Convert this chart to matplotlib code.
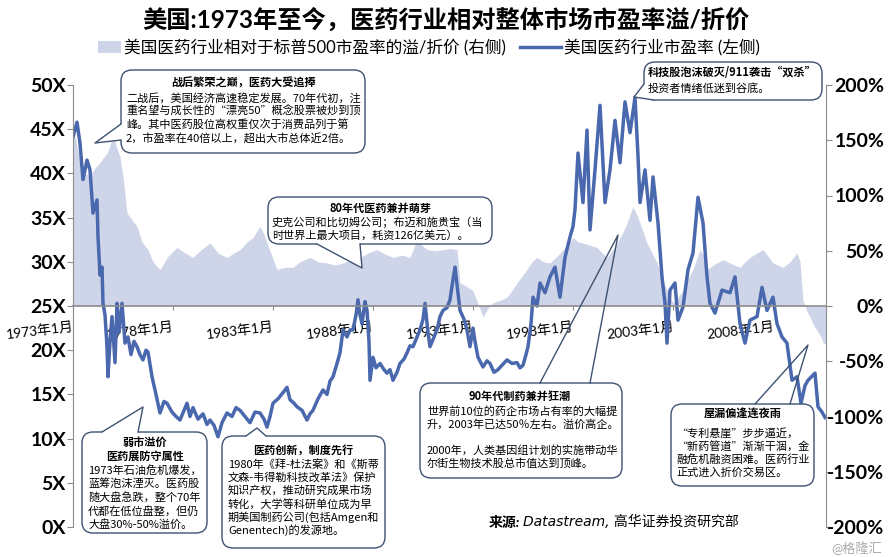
import matplotlib
matplotlib.use("Agg")
import matplotlib.pyplot as plt
from matplotlib.patches import FancyBboxPatch, Polygon, Rectangle
from matplotlib.lines import Line2D
from matplotlib.transforms import Affine2D

plt.rcParams['font.family'] = ['Lato', 'Noto Sans CJK SC', 'DejaVu Sans']

W, H = 888, 557
LINE, AREA, EDGE, GREY = "#4A68AD", "#CFD5E8", "#3E5272", "#8C8C8C"

# ---- data ----------------------------------------------------------------------------------
# US pharma sector P/E (left axis, x)
PE_YEAR = [1973.0, 1973.2, 1973.35, 1973.5, 1973.7, 1973.85, 1974.0, 1974.2, 1974.25, 1974.35,
           1974.45, 1974.5, 1974.6, 1974.7, 1974.75, 1974.85, 1974.95, 1975.1, 1975.2, 1975.3,
           1975.45, 1975.6, 1975.75, 1975.9, 1976.05, 1976.2, 1976.35, 1976.5, 1976.65, 1976.75,
           1976.95, 1977.1, 1977.35, 1977.55, 1977.7, 1977.95, 1978.15, 1978.35, 1978.55, 1978.7,
           1978.85, 1979.0, 1979.25, 1979.5, 1979.7, 1979.85, 1980.05, 1980.25, 1980.45, 1980.7,
           1980.95, 1981.15, 1981.35, 1981.6, 1981.85, 1982.1, 1982.35, 1982.55, 1982.7, 1982.85,
           1983.0, 1983.25, 1983.5, 1983.7, 1983.85, 1984.05, 1984.2, 1984.45, 1984.7, 1984.85,
           1985.0, 1985.25, 1985.5, 1985.7, 1985.85, 1986.0, 1986.2, 1986.35, 1986.5, 1986.7,
           1986.85, 1987.0, 1987.15, 1987.25, 1987.35, 1987.45, 1987.6, 1987.7, 1987.8, 1987.85,
           1988.0, 1988.15, 1988.35, 1988.55, 1988.7, 1988.85, 1989.0, 1989.2, 1989.35, 1989.55,
           1989.7, 1989.85, 1990.0, 1990.2, 1990.35, 1990.5, 1990.6, 1990.75, 1990.85, 1991.05,
           1991.2, 1991.35, 1991.5, 1991.7, 1991.85, 1992.0, 1992.1, 1992.25, 1992.35, 1992.55,
           1992.7, 1992.85, 1993.0, 1993.1, 1993.25, 1993.5, 1993.7, 1993.85, 1994.05, 1994.25,
           1994.45, 1994.7, 1994.95, 1995.2, 1995.35, 1995.5, 1995.65, 1995.75, 1995.9, 1996.0,
           1996.2, 1996.35, 1996.6, 1996.85, 1997.1, 1997.35, 1997.6, 1997.85, 1998.0, 1998.1,
           1998.25, 1998.5, 1998.7, 1998.85, 1999.1, 1999.35, 1999.6, 1999.85, 2000.1, 2000.35,
           2000.6, 2000.85, 2001.1, 2001.25, 2001.35, 2001.6, 2001.85, 2002.0, 2002.25, 2002.45,
           2002.6, 2002.7, 2002.85, 2003.1, 2003.25, 2003.5, 2003.75, 2004.0, 2004.25, 2004.5,
           2004.7, 2004.85, 2005.1, 2005.45, 2005.85, 2006.1, 2006.35, 2006.6, 2006.85, 2007.2,
           2007.45, 2007.7, 2008.0, 2008.2, 2008.45, 2008.7, 2008.95, 2009.2, 2009.4, 2009.6,
           2009.75, 2010.1, 2010.25, 2010.45, 2010.6]
PE_VAL = [44.1, 45.8, 43.4, 39.3, 41.5, 40.4, 35.5, 37.0, 32.8, 28.5,
          29.4, 25.3, 24.0, 20.4, 17.0, 21.0, 23.8, 18.6, 25.3, 22.0,
          25.3, 20.8, 21.5, 19.5, 21.0, 20.4, 19.5, 18.9, 20.0, 19.8,
          17.0, 15.5, 12.9, 14.2, 14.0, 13.0, 12.5, 12.1, 13.2, 14.0,
          12.5, 13.5, 12.2, 12.8, 11.6, 12.1, 11.5, 10.2, 11.8, 12.9,
          12.5, 13.5, 13.2, 12.5, 11.8, 13.0, 12.9, 12.2, 11.3, 12.5,
          14.0, 14.5, 15.2, 15.8, 14.4, 14.0, 13.6, 13.2, 12.1, 12.8,
          13.2, 14.5, 15.5, 15.0, 16.5, 17.0, 18.5, 19.7, 22.3, 21.5,
          22.3, 22.3, 24.0, 25.7, 24.0, 23.0, 25.5, 24.5, 21.0, 16.6,
          19.2, 18.0, 18.5, 17.8, 17.4, 17.8, 16.6, 17.5, 18.5, 19.0,
          19.7, 20.5, 20.4, 21.5, 22.3, 23.5, 25.3, 22.0, 20.4, 21.5,
          22.3, 23.8, 24.5, 24.8, 25.7, 28.0, 29.4, 26.5, 24.5, 23.5,
          22.3, 20.4, 22.5, 21.0, 19.2, 18.1, 18.8, 18.5, 17.5, 17.8,
          18.3, 18.9, 18.5, 18.6, 18.0, 18.3, 19.5, 20.4, 23.0, 26.0,
          25.0, 27.6, 26.5, 28.3, 29.4, 26.0, 30.5, 32.8, 34.0, 35.9,
          42.3, 36.7, 44.9, 33.6, 40.4, 47.7, 36.7, 40.4, 46.0, 41.2,
          48.1, 44.6, 48.6, 42.0, 36.7, 40.4, 34.7, 39.6, 34.4, 28.3,
          25.3, 20.8, 26.8, 27.6, 23.4, 24.9, 29.1, 31.0, 37.3, 34.4,
          28.3, 25.3, 24.2, 26.8, 26.5, 28.3, 23.0, 20.8, 23.4, 23.8,
          27.1, 24.5, 26.0, 23.0, 21.5, 20.8, 16.6, 17.0, 14.0, 16.0,
          16.6, 17.4, 13.6, 13.0, 12.4]

# pharma P/E premium / discount vs S&P 500 (right axis, %)
PREM_YEAR = [1973.0, 1973.15, 1973.35, 1973.6, 1973.85, 1974.1, 1974.35, 1974.55, 1974.7, 1974.85,
             1975.0, 1975.15, 1975.35, 1975.55, 1975.7, 1975.95, 1976.2, 1976.45, 1976.75, 1977.0,
             1977.35, 1977.75, 1978.2, 1978.6, 1979.0, 1979.35, 1979.85, 1980.25, 1980.7, 1981.05,
             1981.35, 1981.7, 1982.0, 1982.35, 1982.55, 1982.7, 1982.95, 1983.2, 1983.6, 1984.0,
             1984.35, 1984.85, 1985.25, 1985.7, 1986.1, 1986.5, 1986.95, 1987.35, 1987.75, 1988.2,
             1988.6, 1989.0, 1989.45, 1989.85, 1990.2, 1990.45, 1990.7, 1991.1, 1991.5, 1991.85,
             1992.2, 1992.35, 1992.65, 1993.0, 1993.25, 1993.5, 1993.75, 1994.0, 1994.35, 1994.7,
             1994.95, 1995.2, 1995.45, 1995.7, 1995.95, 1996.2, 1996.5, 1996.85, 1997.2, 1997.5,
             1997.75, 1998.0, 1998.25, 1998.5, 1998.85, 1999.2, 1999.45, 1999.7, 1999.95, 2000.2,
             2000.45, 2000.7, 2001.0, 2001.2, 2001.35, 2001.7, 2001.95, 2002.2, 2002.45, 2002.7,
             2003.0, 2003.25, 2003.5, 2003.75, 2004.0, 2004.35, 2004.55, 2004.7, 2005.1, 2005.5,
             2005.95, 2006.35, 2006.6, 2006.85, 2007.2, 2007.5, 2007.75, 2008.0, 2008.25, 2008.5,
             2008.85, 2009.2, 2009.35, 2009.5, 2009.7, 2009.85, 2010.05, 2010.2, 2010.4, 2010.5,
             2010.65]
PREM_VAL = [157, 150, 130, 120, 118, 125, 130, 135, 138, 145,
            157, 145, 135, 110, 84, 78, 72, 58, 51, 40,
            33, 45, 53, 48, 44, 50, 57, 48, 44, 48,
            51, 58, 62, 72, 65, 57, 45, 33, 35, 35,
            40, 44, 40, 39, 37, 39, 42, 44, 48, 51,
            47, 44, 46, 44, 60, 55, 51, 50, 51, 52,
            51, 21, 18, 14, 2, -10, -2, 3, 5, 8,
            14, 21, 27, 33, 40, 44, 40, 39, 45, 51,
            55, 62, 58, 57, 55, 53, 48, 44, 50, 57,
            65, 75, 90, 82, 75, 57, 48, 39, 25, 14,
            3, 8, 14, 25, 33, 51, 45, 33, 38, 42,
            38, 35, 40, 44, 48, 51, 45, 39, 37, 35,
            40, 48, 40, 5, -5, -10, -18, -22, -28, -33,
            -35]

TICK_YEARS = [1973, 1978, 1983, 1988, 1993, 1998, 2003, 2008]
TICK_LABELS = [f"{y}年1月" for y in TICK_YEARS]
PE_TICKS = list(range(0, 55, 5))
PREM_TICKS = list(range(-200, 250, 50))

TITLE = "美国:1973年至今，医药行业相对整体市场市盈率溢/折价"
LEG_AREA = "美国医药行业相对于标普500市盈率的溢/折价 (右侧)"
LEG_LINE = "美国医药行业市盈率 (左侧)"

# ---- figure -------------------------------------------------------------------------------
fig = plt.figure(figsize=(W / 100, H / 100), dpi=100)
PX = Affine2D().scale(0.01, -0.01).translate(0, H / 100) + fig.dpi_scale_trans  # pixel coords, y down

ax = fig.add_axes([73 / W, (H - 527) / H, (826 - 73) / W, (527 - 85) / H])
ax2 = ax.twinx()
ax2.fill_between(PREM_YEAR, PREM_VAL, 0, color=AREA, lw=0)
ax.plot(PE_YEAR, PE_VAL, color=LINE, lw=2.5, solid_joinstyle="round")
ax.set_zorder(ax2.get_zorder() + 1); ax.patch.set_visible(False)

ax.set_xlim(1973, 2010.65)
ax.set_ylim(0, 50); ax2.set_ylim(-200, 200)

for a in (ax, ax2):
    for s in a.spines.values(): s.set_visible(False)
ax.spines["left"].set_visible(True); ax.spines["left"].set_color(GREY)
ax2.spines["right"].set_visible(True); ax2.spines["right"].set_color(GREY)
ax.spines["bottom"].set_visible(True); ax.spines["bottom"].set_color(GREY)
ax.spines["bottom"].set_position(("data", 25)); ax.spines["bottom"].set_linewidth(1.2)

ax.set_xticks(TICK_YEARS); ax.set_xticklabels(TICK_LABELS, fontsize=10)
ax.tick_params(axis="x", length=3, color=GREY, pad=7)
for t in ax.get_xticklabels():
    t.set_rotation(7); t.set_ha("right"); t.set_rotation_mode("anchor")

ax.set_yticks(PE_TICKS); ax.set_yticklabels([f"{v}X" for v in PE_TICKS], fontsize=14, fontweight="bold")
ax.tick_params(axis="y", length=4, color=GREY, pad=1)
ax2.set_yticks(PREM_TICKS); ax2.set_yticklabels([f"{v}%" for v in PREM_TICKS], fontsize=14, fontweight="bold")
ax2.tick_params(axis="y", length=4, color=GREY, pad=38)
for t in ax2.get_yticklabels(): t.set_ha("right")

# ---- title, legend, source --------------------------------------------------------------
fig.text(446, 20, TITLE, transform=PX, fontsize=17.5, fontweight="bold", ha="center", va="center")
fig.add_artist(Rectangle((98, 41), 23, 12, transform=PX, fc=AREA, ec="none"))
fig.text(124, 47, LEG_AREA, transform=PX, fontsize=12, va="center")
fig.add_artist(Line2D([520, 561], [47, 47], transform=PX, color=LINE, lw=2.5))
fig.text(564, 47, LEG_LINE, transform=PX, fontsize=12, va="center")
fig.text(489, 522, "来源:", transform=PX, fontsize=10, fontweight="bold", style="italic", va="center")
fig.text(523, 522, "Datastream, 高华证券投资研究部", transform=PX, fontsize=10, style="italic",
         va="center", family=["DejaVu Sans", "Noto Sans CJK SC"])
fig.text(882, 548, "@格隆汇", transform=PX, fontsize=9.5, color="#AAAAAA", ha="right", va="center")


# ---- speech-bubble annotations (pixel coords) -------------------------------------------
def bubble(x0, y0, x1, y1, tails=(), filled=True):
    fig.add_artist(FancyBboxPatch((x0, y0), x1 - x0, y1 - y0, transform=PX, fc="white", ec=EDGE, lw=1.0,
                                  boxstyle="round,pad=0,rounding_size=11", zorder=5))
    for b1, tip, b2, (dx, dy) in tails:
        if filled:
            pts = [(b1[0] + dx, b1[1] + dy), b1, tip, b2, (b2[0] + dx, b2[1] + dy)]
            fig.add_artist(Polygon(pts, transform=PX, fc="white", ec="none", zorder=5.5))
        fig.add_artist(Line2D([b1[0], tip[0], b2[0]], [b1[1], tip[1], b2[1]], transform=PX,
                              color=EDGE, lw=1.0, zorder=6))


def lines(x, y0, dy, rows, **kw):
    for i, r in enumerate(rows):
        fig.text(x, y0 + i * dy, r, transform=PX, fontsize=8, va="center", zorder=7,
                 family=["Noto Sans CJK SC", "DejaVu Sans"], **kw)


bubble(121, 70, 365, 153, [((121, 124), (95, 143), (121, 140), (3, 0))])
lines(243, 83, 0, ["战后繁荣之巅，医药大受追捧"], ha="center", fontweight="bold")
lines(126, 98, 13.3, ["二战后，美国经济高速稳定发展。70年代初，注",
                      "重名望与成长性的“漂亮50”概念股票被炒到顶",
                      "峰。其中医药股位高权重仅次于消费品列于第",
                      "2，市盈率在40倍以上，超出大市总体近2倍。"])

bubble(268, 197, 492, 244, [((317, 244), (362, 268), (360, 244), (0, -3))])
lines(380, 208, 0, ["80年代医药兼并萌芽"], ha="center", fontweight="bold")
lines(272, 222, 13.5, ["史克公司和比切姆公司；布迈和施贵宝（当",
                       "时世界上最大项目，耗资126亿美元）。"])

bubble(644, 62, 822, 100, [((644, 84), (634, 97), (654, 100), (3, -3))])
lines(648, 73, 0, ["科技股泡沫破灭/911袭击“双杀”"], fontweight="bold")
lines(648, 88, 0, ["投资者情绪低迷到谷底。"])

bubble(82, 432, 207, 533, [((102, 432), (143, 407), (138, 432), (0, 3))])
lines(145, 442, 14.5, ["弱市溢价", "医药展防守属性"], ha="center", fontweight="bold")
lines(88, 470, 13.7, ["1973年石油危机爆发，", "蓝筹泡沫湮灭。医药股", "随大盘急跌，整个70年",
                      "代都在低位盘整，但仍", "大盘30%-50%溢价。"])

bubble(222, 436, 385, 548, [((246, 436), (257, 428), (266, 436), (0, 3))])
lines(303, 450, 0, ["医药创新，制度先行"], ha="center", fontweight="bold")
lines(228, 464, 13.3, ["1980年《拜-杜法案》和《斯蒂", "文森-韦得勒科技改革法》保护", "知识产权，推动研究成果市场",
                       "转化，大学等科研单位成为早", "期美国制药公司(包括Amgen和", "Genentech)的发源地。"])

bubble(420, 383, 622, 478, [((540, 383), (618, 235), (590, 383), (0, 0))], filled=False)
lines(520, 396, 0, ["90年代制药兼并狂潮"], ha="center", fontweight="bold")
lines(427, 411, 13.0, ["世界前10位的药企市场占有率的大幅提", "升，2003年已达50％左右。溢价高企。", "",
                       "2000年，人类基因组计划的实施带动华", "尔街生物技术股总市值达到顶峰。"])

bubble(671, 404, 814, 486, [((755, 404), (808, 345), (790, 404), (0, 0))], filled=False)
lines(743, 414, 0, ["屋漏偏逢连夜雨"], ha="center", fontweight="bold")
lines(676, 433, 13.2, ["“专利悬崖”步步逼近，", "“新药管道”渐渐干涸，金", "融危机融资困难。医药行业",
                       "正式进入折价交易区。"])

fig.savefig("out.png", dpi=100)
